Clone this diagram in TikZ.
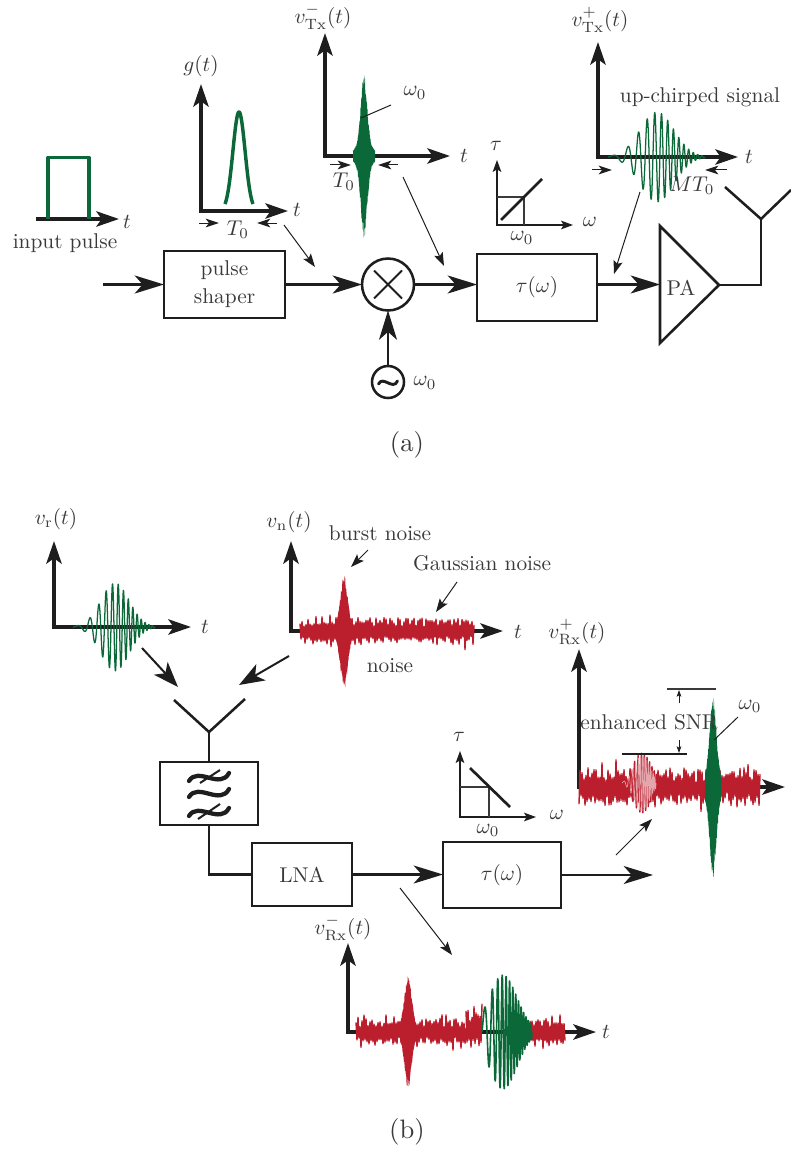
\documentclass[tikz,border=0pt]{standalone}
\usetikzlibrary{arrows.meta}
\definecolor{ink}{HTML}{1E1E1E}
\definecolor{txt}{HTML}{3A3A3A}
\definecolor{grn}{HTML}{0B6838}
\definecolor{rd}{HTML}{BB1E2D}
\def\pxu{0.75pt}
\def\chirpw{0.95pt}
\def\fs{1.6}
\pgfmathdeclarefunction{gs}{1}{\pgfmathparse{exp(-(#1)*(#1))}}
\tikzset{
  lbl/.style={text=txt,inner sep=0pt,scale=\fs,align=center},
  caplbl/.style={text=txt,inner sep=0pt,scale=2,align=center},
  blockbox/.style={draw=ink,line width=2.1pt,inner sep=0pt,outer sep=0pt,text=txt,scale=\fs,align=center},
  ringbox/.style={draw=ink,line width=1.9pt,circle,inner sep=0pt,outer sep=0pt},
  wire/.style={draw=ink,line width=1.9pt},
  bigarrow/.style={draw=ink,line width=1.7pt,-{Stealth[length=22pt,width=13.5pt,inset=6pt]}},
  medarrow/.style={draw=ink,line width=1.5pt,-{Stealth[length=19pt,width=14pt,inset=5pt]}},
  axisline/.style={draw=ink,line width=2.6pt,line join=miter,{Stealth[length=17pt,width=11.5pt,inset=4pt]}-{Stealth[length=17pt,width=11.5pt,inset=4pt]}},
  haxis/.style={draw=ink,line width=2.6pt,-{Stealth[length=17pt,width=11.5pt,inset=4pt]}},
  smallaxis/.style={draw=ink,line width=.9pt,{Stealth[length=9pt,width=6.5pt,inset=2pt]}-{Stealth[length=9pt,width=6.5pt,inset=2pt]}},
  gridline/.style={draw=txt,line width=.8pt},
  slope/.style={draw=ink,line width=2pt},
  leader/.style={draw=ink,line width=.75pt,-{Stealth[length=10pt,width=7pt,inset=2pt]}},
  plainleader/.style={draw=ink,line width=.75pt},
  tiptick/.style={draw=ink,line width=.75pt,-{Stealth[length=10pt,width=6.5pt,inset=2.5pt]}},
  snrtick/.style={draw=ink,line width=.7pt,-{Stealth[length=5pt,width=3.5pt,inset=1pt]}},
  pulse/.style={draw=grn,line width=2.6pt,line join=round},
  chirpline/.style={line width=\chirpw,line join=round},
  noiseline/.style={draw=rd,line width=1.05pt,line join=round},
  wave/.style={draw=ink,line width=3.2pt,line cap=round},
}
% chirp: x0 x1 xc y0 A s colour
\newcommand\chirpsig[7]{\draw[chirpline,draw=#7] plot[domain=0:1,samples=420] ({#1+(#2-#1)*\x},{#4-(#5)*gs(((#1+(#2-#1)*\x)-(#3))/(#6))*sin(6.2832*(4*\x+10*\x*\x) r)});}
% noise: seed x0 x1 y0 amp samples (range+1 so the sign alternates)
\newcommand\noisesigN[6]{\pgfmathsetseed{#1}\draw[noiseline] plot[domain=#2:#3,samples=#6] (\x,{#4-(#5)*(cos(180*mod(\x,2))*(0.36+0.26*abs(rand)+0.38*abs(rand*rand*rand))*(0.88+0.22*sin(1.3*(\x-#2) r)*sin(0.47*(\x-#2) r))+0.1*sin(0.9*(\x-#2) r))});}
% spike (filled): seed xl xr xc y0 A2 s2 colour; main lobe \spA, \spS
\newcommand\spike[8]{\pgfmathsetseed{#1}\fill[#8] plot[domain=#2:#3,samples=80] (\x,{(#5)-(\spA*gs((\x-(#4))/\spS)+#6*gs((\x-(#4))/#7))*(0.9+0.1*rand)}) -- plot[domain=#3:#2,samples=80] (\x,{(#5)+(\spA*gs((\x-(#4))/\spS)+#6*gs((\x-(#4))/#7))*(0.9+0.1*rand)}) -- cycle;}
\begin{document}
\begin{tikzpicture}[x=0.75pt,y=-0.75pt]
\useasboundingbox (0,0) rectangle (791,1152);

%%%%%%%%%% (a)
% input pulse
\coordinate (p1s) at (36,219); \coordinate (p1e) at (119,219);
\draw[haxis] (p1s) -- (p1e);
\draw[pulse] (48,219) -- (48,157.5) -- (89,157.5) -- (89,219);
\node[lbl] (t1) at (127,222) {$t$};
\node[lbl] (inlabel) at (65,243) {input pulse};

% g(t)
\coordinate (gy) at (201,84); \coordinate (gx) at (288,211);
\draw[axisline] (gy) |- (gx);
\draw[pulse] plot[domain=225:253,samples=60,smooth] (\x,{211-99*gs((\x-239)/8.6)});
\node[lbl] (gl) at (201,66) {$g(t)$};
\node[lbl] (t2) at (297,210) {$t$};
\coordinate (g1) at (199,223); \coordinate (g2) at (219,223);
\coordinate (g3) at (277,223); \coordinate (g4) at (257,223);
\draw[tiptick] (g1) -- (g2); \draw[tiptick] (g3) -- (g4);
\node[lbl] (gT) at (238,230) {$T_0$};

% v_Tx^-
\coordinate (my) at (325,33); \coordinate (mx) at (450,156);
\draw[axisline] (my) |- (mx);
\def\spA{72}\def\spS{4.5}
\spike{11}{353}{375}{364}{156}{11}{14}{grn}
\node[lbl] (ml) at (323,17) {$v^-_{\mathrm{Tx}}(t)$};
\node[lbl] (t3) at (464,156) {$t$};
\node[lbl] (mw) at (415,93) {$\omega_0$};
\coordinate (mw1) at (361,118); \coordinate (mw2) at (391,105);
\draw[plainleader] (mw1) -- (mw2);
\coordinate (m1) at (330,165); \coordinate (m2) at (351,165);
\coordinate (m3) at (398,165); \coordinate (m4) at (378,165);
\draw[tiptick] (m1) -- (m2); \draw[tiptick] (m3) -- (m4);
\node[lbl] (mT) at (344,182) {$T_0$};

% leaders
\coordinate (la1) at (284,225); \coordinate (la2) at (315,267);
\draw[leader] (la1) -- (la2);
\coordinate (la3) at (403,177); \coordinate (la4) at (444,266);
\draw[leader] (la3) -- (la4);
\coordinate (la5) at (640,192); \coordinate (la6) at (614,274);
\draw[leader] (la5) -- (la6);

% tau-omega inset a
\coordinate (iy) at (497,160); \coordinate (ix) at (573,225);
\draw[smallaxis] (iy) |- (ix);
\coordinate (ig1) at (497,197); \coordinate (ig2) at (524,197); \coordinate (ig3) at (524,225);
\draw[gridline] (ig1) -- (ig2) -- (ig3);
\coordinate (is1) at (501,220); \coordinate (is2) at (542,179);
\draw[slope] (is1) -- (is2);
\node[lbl] (itau) at (496,146) {$\tau$};
\node[lbl] (iom) at (590,222) {$\omega$};
\node[lbl] (iw0) at (522,238) {$\omega_0$};

% v_Tx^+
\coordinate (uy) at (598,42); \coordinate (ux) at (738,157);
\draw[axisline] (uy) |- (ux);
\chirpsig{608}{705}{657}{157}{45}{24}{grn}
\node[lbl] (ul) at (600,20) {$v^+_{\mathrm{Tx}}(t)$};
\node[lbl] (t4) at (749,157) {$t$};
\node[lbl] (uc) at (700,97) {up-chirped signal};
\node[lbl] (uT) at (692,186) {$MT_0$};
\coordinate (u1) at (592,170); \coordinate (u2) at (612,170);
\coordinate (u3) at (727,170); \coordinate (u4) at (705,170);
\draw[tiptick] (u1) -- (u2); \draw[tiptick] (u3) -- (u4);

% chain a
\coordinate (ina) at (103,284.5);
\node[blockbox,minimum width=121*\pxu/\fs,minimum height=67*\pxu/\fs] (shaper) at (224.5,284.5) {pulse\\[1pt]shaper};
\node[ringbox,minimum size=52*\pxu] (mult) at (388,284.5) {};
\node[ringbox,minimum size=32*\pxu] (osc) at (388,382) {};
\node[blockbox,minimum width=120*\pxu/\fs,minimum height=67*\pxu/\fs] (taua) at (537,287.5) {$\tau(\omega)$};
\draw[bigarrow] (ina) -- (shaper.west);
\draw[bigarrow] (shaper.east) -- (mult.west);
\draw[bigarrow] (osc.north) -- (mult.south);
\draw[bigarrow] (mult.east) -- (mult.east -| taua.west);
\draw[line width=1.5pt,draw=ink] ([shift={(-14,-14)}]mult.center) -- ([shift={(14,14)}]mult.center);
\draw[line width=1.5pt,draw=ink] ([shift={(-14,14)}]mult.center) -- ([shift={(14,-14)}]mult.center);
\draw[draw=ink,line width=2.2pt,line cap=round] (378.5,384) .. controls (383,375) and (393,391) .. (397.5,381);
\node[lbl] (oscw) at (425,383) {$\omega_0$};
% PA
\coordinate (pat) at (660,226); \coordinate (pab) at (660,343); \coordinate (patip) at (719,285);
\coordinate (pain) at (660,284.5);
\draw[wire,line join=miter] (pat) -- (patip) -- (pab) -- cycle;
\node[lbl] (pal) at (681,288) {PA};
\draw[bigarrow] (taua.east |- pain) -- (pain);
\coordinate (ant) at (761,219); \coordinate (antl) at (725,187); \coordinate (antr) at (791,190);
\draw[wire] (patip) -| (ant);
\draw[wire] (antl) -- (ant) -- (antr);
\node[caplbl] (capa) at (407,445) {(a)};

%%%%%%%%%% (b)
% v_r
\coordinate (ry) at (54,541); \coordinate (rx) at (191,627);
\draw[axisline] (ry) |- (rx);
\chirpsig{73}{155}{115}{627}{44}{20}{grn}
\node[lbl] (rl) at (56,519) {$v_{\mathrm{r}}(t)$};
\node[lbl] (t5) at (205,627) {$t$};
\coordinate (ra1) at (142,648); \coordinate (ra2) at (178,687);
\draw[medarrow] (ra1) -- (ra2);
% v_n
\coordinate (ny) at (291,541); \coordinate (nx) at (503,631);
\draw[axisline] (ny) |- (nx);
\noisesigN{7}{300}{474}{631}{20}{175}
\def\spA{47}\def\spS{5}
\spike{5}{330}{358}{344}{632}{11}{9}{rd}
\node[lbl] (nl) at (289,522) {$v_{\mathrm{n}}(t)$};
\node[lbl] (t6) at (518,632) {$t$};
\node[lbl] (nb) at (380,533) {burst noise};
\coordinate (nb1) at (368,550); \coordinate (nb2) at (351,567);
\draw[leader] (nb1) -- (nb2);
\node[lbl] (ng) at (482,563) {Gaussian noise};
\coordinate (ng1) at (457,582); \coordinate (ng2) at (436,612);
\draw[leader] (ng1) -- (ng2);
\node[lbl] (nn) at (390,666) {noise};
\coordinate (na1) at (289,656); \coordinate (na2) at (239,685);
\draw[medarrow] (na1) -- (na2);
% antenna + chain b
\coordinate (rl1) at (174,700); \coordinate (rc) at (209,732); \coordinate (rr1) at (245,699);
\draw[wire] (rl1) -- (rc) -- (rr1);
\node[blockbox,minimum width=98*\pxu/\fs,minimum height=63*\pxu/\fs] (filt) at (209,793.5) {};
\node[blockbox,minimum width=100*\pxu/\fs,minimum height=63*\pxu/\fs] (lna) at (302,874.5) {LNA};
\node[blockbox,minimum width=118*\pxu/\fs,minimum height=66*\pxu/\fs] (taub) at (502,875) {$\tau(\omega)$};
\coordinate (outb) at (653,875);
\draw[wire] (rc) -- (filt.north);
\draw[wire] (filt.south) |- (lna.west);
\draw[bigarrow] (lna.east) -- (lna.east -| taub.west);
\draw[bigarrow] (taub.east) -- (outb);
\draw[wave] (189,781) .. controls (198,766) and (220,790) .. (229,773);
\draw[wave] (189,797) .. controls (198,782) and (220,806) .. (229,789);
\draw[wave] (189,816) .. controls (198,801) and (220,825) .. (229,808);
\draw[line width=1.5pt,draw=ink] (200,783) -- (220,770);
\draw[line width=1.5pt,draw=ink] (198,819) -- (220,804);

% tau-omega inset b
\coordinate (jy) at (460,751); \coordinate (jx) at (536,817);
\draw[smallaxis] (jy) |- (jx);
\coordinate (jg1) at (460,787); \coordinate (jg2) at (489,787); \coordinate (jg3) at (489,817);
\draw[gridline] (jg1) -- (jg2) -- (jg3);
\coordinate (js1) at (470,768); \coordinate (js2) at (510,807);
\draw[slope] (js1) -- (js2);
\node[lbl] (jtau) at (459,737) {$\tau$};
\node[lbl] (jom) at (557,815) {$\omega$};
\node[lbl] (jw0) at (488,830) {$\omega_0$};

% v_Rx^+
\coordinate (ey) at (579,649); \coordinate (ex) at (785,787);
\draw[axisline] (ey) |- (ex);
\noisesigN{21}{579}{760}{787}{28}{182}
\chirpsig{616}{662}{642}{783}{30}{13}{rd}
\def\chirpw{0.5pt}
\chirpsig{622}{656}{642}{783}{28}{11}{rd!40!white}
\def\chirpw{0.95pt}
\def\spA{72}\def\spS{4.5}
\spike{9}{705}{721}{713}{787}{20}{10}{grn}
\node[lbl] (el) at (577,632) {$v^+_{\mathrm{Rx}}(t)$};
\node[lbl] (es) at (649,722) {enhanced SNR};
\node[lbl] (ew) at (750,706) {$\omega_0$};
\coordinate (ew1) at (738,717); \coordinate (ew2) at (714,740);
\draw[plainleader] (ew1) -- (ew2);
\coordinate (eb1) at (667,689); \coordinate (eb2) at (716,689);
\draw[gridline] (eb1) -- (eb2);
\coordinate (ec1) at (622,754); \coordinate (ec2) at (687,754);
\draw[gridline,draw=ink] (ec1) -- (ec2);
\coordinate (es1) at (679,703); \coordinate (es2) at (679,690);
\draw[snrtick] (es1) -- (es2);
\coordinate (es3) at (679,740); \coordinate (es4) at (679,753);
\draw[snrtick] (es3) -- (es4);
\coordinate (ea1) at (616,855); \coordinate (ea2) at (652,819);
\draw[leader] (ea1) -- (ea2);

% v_Rx^-
\coordinate (fy) at (348,943); \coordinate (fx) at (596,1032);
\draw[axisline] (fy) |- (fx);
\coordinate (fa1) at (400,888); \coordinate (fa2) at (452,955);
\draw[leader] (fa1) -- (fa2);
\noisesigN{33}{356}{466}{1032}{22}{111}
\noisesigN{35}{466}{482}{1028}{30}{17}
\noisesigN{34}{530}{565}{1032}{22}{36}
\def\spA{46}\def\spS{5}
\spike{3}{394}{422}{408}{1031}{11}{9}{rd}
\def\chirpw{1.2pt}
\chirpsig{482}{532}{503}{1032}{57}{20}{grn}
\node[lbl] (fl) at (343,928) {$v^-_{\mathrm{Rx}}(t)$};
\node[lbl] (t7) at (606,1032) {$t$};
\node[caplbl] (capb) at (407,1132) {(b)};
\end{tikzpicture}
\end{document}
